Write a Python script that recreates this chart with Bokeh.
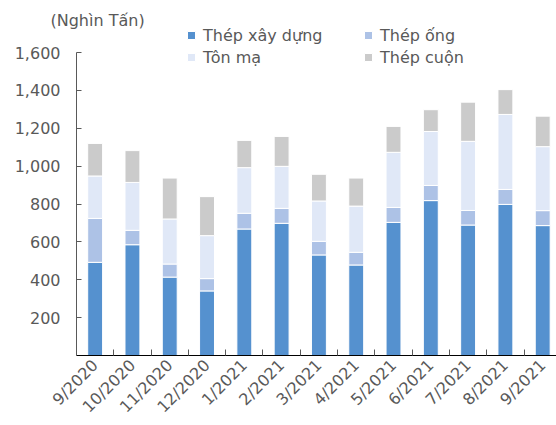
import math
from bokeh.plotting import figure
from bokeh.models import Range1d, FixedTicker, NumeralTickFormatter
from bokeh.embed import file_html
from bokeh.resources import INLINE

months = ["9/2020", "10/2020", "11/2020", "12/2020", "1/2021", "2/2021", "3/2021",
          "4/2021", "5/2021", "6/2021", "7/2021", "8/2021", "9/2021"]
thep_xay_dung = [492, 585, 414, 341, 668, 698, 531, 478, 703, 818, 689, 798, 686]
thep_ong = [232, 76, 69, 65, 83, 79, 72, 67, 79, 80, 77, 79, 79]
ton_ma = [224, 253, 238, 227, 241, 222, 213, 244, 291, 285, 365, 396, 338]
thep_cuon = [172, 168, 216, 206, 144, 158, 141, 148, 137, 115, 207, 131, 161]
y_ticks = [200, 400, 600, 800, 1000, 1200, 1400, 1600]

series_names = ["Thép xây dựng", "Thép ống", "Tôn mạ", "Thép cuộn"]
colors = ["#5591cf", "#adc2e6", "#e0e8f7", "#cbcbcb"]
unit_title = "(Nghìn Tấn)"

FONT = "DejaVu Sans"
TXT = "#595959"

idx = list(range(len(months)))
data = dict(x=idx, xd=thep_xay_dung, ong=thep_ong, ton=ton_ma, cuon=thep_cuon)

p = figure(width=556, height=425, output_backend="svg", toolbar_location=None,
           x_range=Range1d(-0.5, 12.37), y_range=Range1d(0, 1748),
           min_border_left=76, min_border_right=0, min_border_top=24, min_border_bottom=70,
           title=unit_title)
p.outline_line_color = None
p.grid.grid_line_color = None

p.title.align = "left"
p.title.offset = -26
p.title.standoff = -11
p.title.vertical_align = "bottom"
p.title.text_font = FONT
p.title.text_font_size = "16px"
p.title.text_font_style = "normal"
p.title.text_color = TXT

p.vbar_stack(["xd", "ong", "ton", "cuon"], x="x", width=0.4, source=data,
             color=colors, line_color="white", line_width=1,
             legend_label=series_names)

# y axis
ya = p.yaxis[0]
ya.ticker = FixedTicker(ticks=y_ticks, minor_ticks=[])
ya.bounds = (0, 1600)
ya.formatter = NumeralTickFormatter(format="0,0")
ya.major_tick_in = 5
ya.major_tick_out = 0
ya.minor_tick_line_color = None
ya.axis_line_color = "#595959"
ya.major_tick_line_color = "#595959"
ya.major_label_text_font = FONT
ya.major_label_text_font_size = "16px"
ya.major_label_text_color = TXT
ya.major_label_standoff = 16

# x axis
xa = p.xaxis[0]
xa.ticker = FixedTicker(ticks=idx, minor_ticks=[i - 0.5 for i in range(len(months) + 1)])
xa.major_label_overrides = {i: m for i, m in enumerate(months)}
xa.major_tick_in = 0
xa.major_tick_out = 0
xa.minor_tick_in = 6
xa.minor_tick_out = 0
xa.minor_tick_line_color = "#595959"
xa.axis_line_color = "black"
xa.major_label_orientation = math.pi / 4
xa.major_label_text_font = FONT
xa.major_label_text_font_size = "16px"
xa.major_label_text_color = TXT
xa.major_label_standoff = 7

# legend
lg = p.legend[0]
lg.location = (110, 288)
lg.orientation = "horizontal"
lg.ncols = 2
lg.padding = 0
lg.margin = 0
lg.spacing = 2
lg.label_standoff = 7
lg.label_width = 158
lg.glyph_width = 10
lg.glyph_height = 10
lg.label_height = 20
lg.label_text_font = FONT
lg.label_text_font_size = "16px"
lg.label_text_color = TXT
lg.border_line_alpha = 0
lg.background_fill_alpha = 0

open("out.html", "w").write(file_html(p, INLINE))
